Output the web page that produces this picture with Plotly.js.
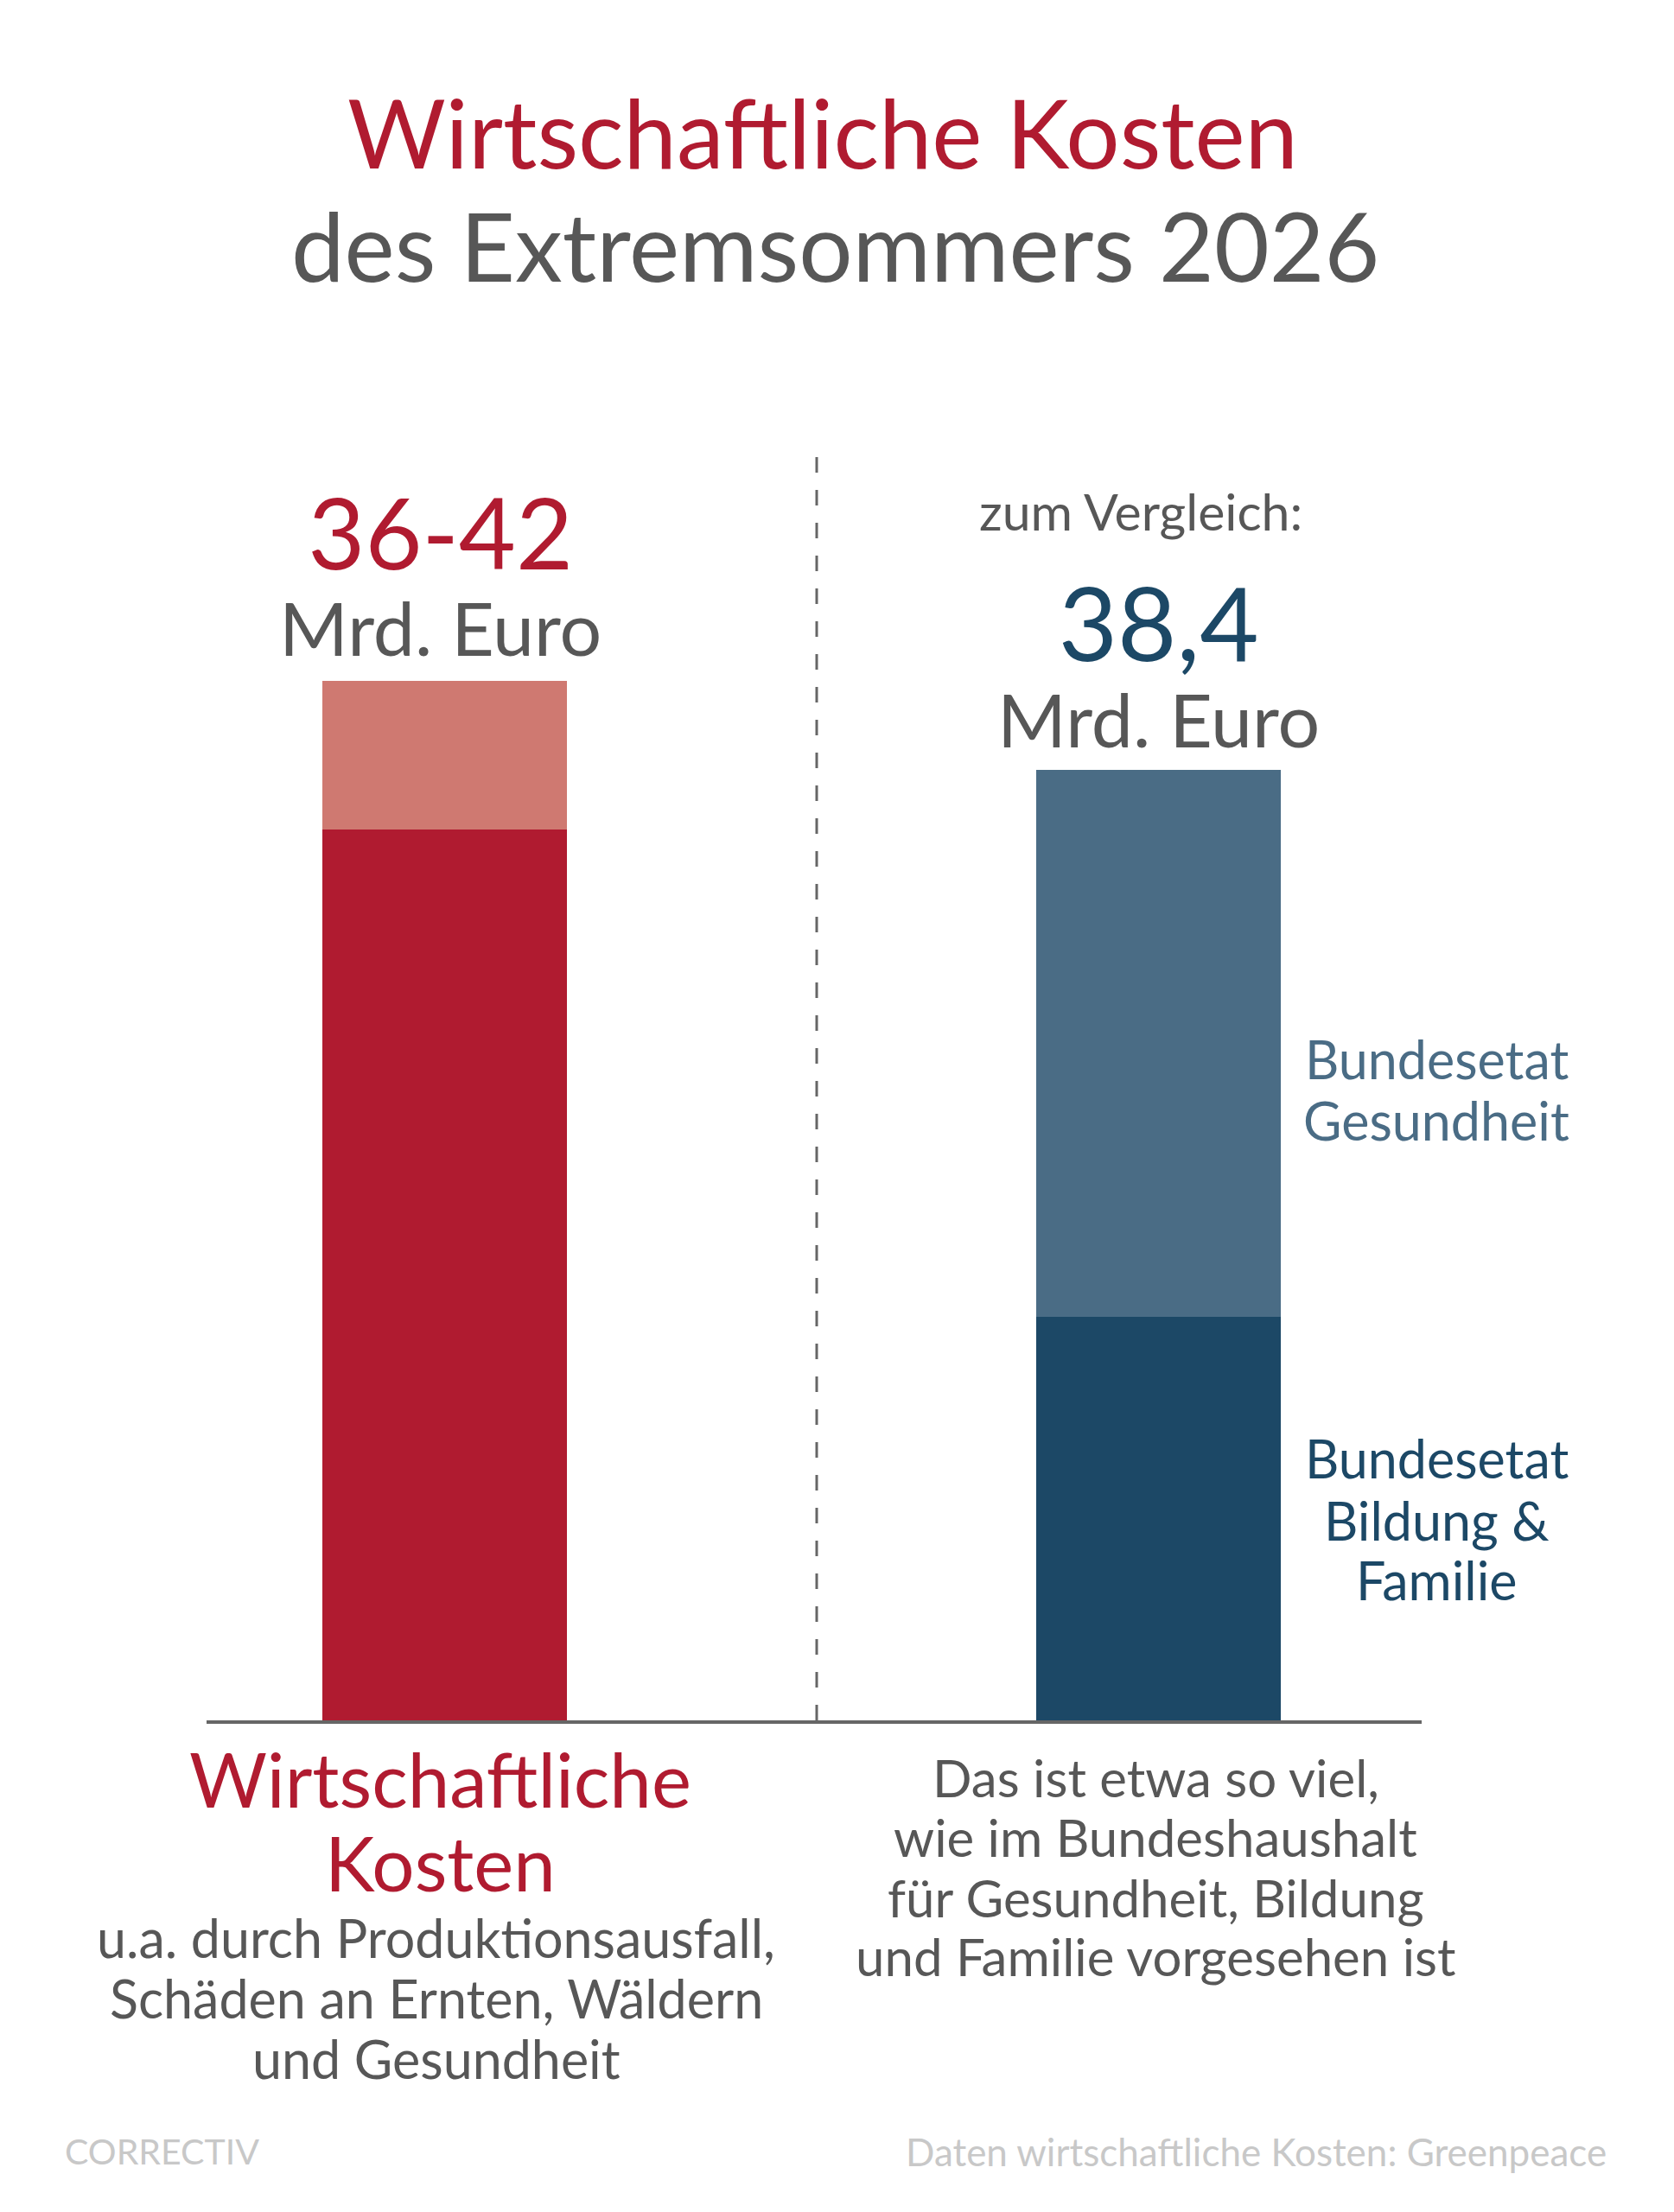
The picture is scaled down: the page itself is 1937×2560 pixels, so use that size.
<!DOCTYPE html>
<html>
<head>
<meta charset="utf-8">
<script src="https://cdn.plot.ly/plotly-3.0.1.min.js"></script>
<style>html,body{margin:0;padding:0;background:#fff;}#chart{width:1937px;height:2560px;}</style>
</head>
<body>
<div id="chart"></div>
<script>
// ---- data ----
const categories = ["Wirtschaftliche Kosten", "Bundeshaushalt"];
const kostenUntergrenze = [36, null];      // Mrd. Euro (sicher)
const kostenSpanne = [6, null];            // bis 42 Mrd. Euro
const etatBildungFamilie = [null, 16.3];   // Mrd. Euro
const etatGesundheit = [null, 22.1];       // Mrd. Euro (Summe 38,4)

const titleLines = ["Wirtschaftliche Kosten", "des Extremsommers 2026"];
const leftValueLabel = "36-42";
const rightValueLabel = "38,4";
const unitLabel = "Mrd. Euro";
const compareLabel = "zum Vergleich:";
const gesundheitLabel = ["Bundesetat", "Gesundheit"];
const bildungLabel = ["Bundesetat", "Bildung &", "Familie"];
const leftHeading = ["Wirtschaftliche", "Kosten"];
const leftText = ["u.a. durch Produktionsausfall,", "Schäden an Ernten, Wäldern", "und Gesundheit"];
const rightText = ["Das ist etwa so viel,", "wie im Bundeshaushalt", "für Gesundheit, Bildung", "und Familie vorgesehen ist"];
const credit = "CORRECTIV";
const source = "Daten wirtschaftliche Kosten: Greenpeace";

// ---- styling ----
const W = 1937, H = 2560;
const FONT = "Lato, 'Source Sans Pro', 'Noto Sans', sans-serif";
const RED = "#b01b30", RED_LIGHT = "#cf7971";
const BLUE = "#1c4866", BLUE_LIGHT = "#4a6c85";
const GRAY = "#575757", LIGHTGRAY = "#c8c8c8";

const xp = px => px / W;
const yp = px => 1 - px / H;

function ann(text, xpx, baseline, size, color, xanchor) {
  return {
    text: text, xref: "paper", yref: "paper",
    x: xp(xpx), y: yp(baseline - 0.39 * size),
    xanchor: xanchor || "center", yanchor: "middle",
    showarrow: false,
    font: {family: FONT, size: size, color: color}
  };
}

// value + unit in one text block (two lines, different sizes/colours)
function valueBlock(value, valueColor, xpx, centerPx, valueSize, unitSize, baseSize) {
  return {
    text: "<span style='font-size:" + valueSize + "px;fill:" + valueColor + "'>" + value + "</span><br>" +
          "<span style='font-size:" + unitSize + "px'>" + unitLabel + "</span>",
    xref: "paper", yref: "paper",
    x: xp(xpx), y: yp(centerPx),
    xanchor: "center", yanchor: "middle", align: "center",
    showarrow: false,
    font: {family: FONT, size: baseSize, color: GRAY}
  };
}

const annotations = [];
annotations.push(ann(titleLines[0], 952, 195, 110, RED));
annotations.push(ann(titleLines[1], 966, 326, 110, GRAY));
annotations.push(valueBlock(leftValueLabel, RED, 509, 661, 114, 86, 77));
annotations.push(ann(compareLabel, 1320, 615, 59, GRAY));
annotations.push(valueBlock(rightValueLabel, BLUE, 1340, 766, 118, 86, 77));
[1249, 1320].forEach((b, i) => annotations.push(ann(gesundheitLabel[i], 1662, b, 61, BLUE_LIGHT)));
[1711, 1783, 1852].forEach((b, i) => annotations.push(ann(bildungLabel[i], 1662, b, 61, BLUE)));
[2092, 2189].forEach((b, i) => annotations.push(ann(leftHeading[i], 510, b, 87, RED)));
[2266, 2336, 2406].forEach((b, i) => annotations.push(ann(leftText[i], 505, b, 61, GRAY)));
[2080, 2149, 2219, 2287].forEach((b, i) => annotations.push(ann(rightText[i], 1337, b, 60, GRAY)));
annotations.push(ann(credit, 73, 2505, 41, LIGHTGRAY, "left"));
annotations.push(ann(source, 1861, 2507, 44, LIGHTGRAY, "right"));

const barWidth = 0.3426;
const traces = [
  {y: kostenUntergrenze, color: RED, name: "Kosten (Untergrenze)"},
  {y: kostenSpanne, color: RED_LIGHT, name: "Kosten (Spanne)"},
  {y: etatBildungFamilie, color: BLUE, name: "Bundesetat Bildung & Familie"},
  {y: etatGesundheit, color: BLUE_LIGHT, name: "Bundesetat Gesundheit"}
].map(t => ({
  type: "bar", x: categories, y: t.y, name: t.name,
  width: barWidth, marker: {color: t.color, line: {width: 0}},
  hoverinfo: "skip"
}));

const layout = {
  width: W, height: H,
  margin: {l: 0, r: 0, t: 0, b: 0, pad: 0},
  paper_bgcolor: "#fff", plot_bgcolor: "#fff",
  barmode: "stack", showlegend: false,
  xaxis: {
    type: "category", domain: [xp(239), xp(1645)], range: [-0.3335, 1.3687],
    showline: true, linecolor: "#666", linewidth: 4,
    showticklabels: false, ticks: "", showgrid: false, zeroline: false, fixedrange: true
  },
  yaxis: {
    domain: [yp(1991), yp(500)], range: [0, 52.06],
    showline: false, showticklabels: false, ticks: "", showgrid: false, zeroline: false, fixedrange: true
  },
  shapes: [{
    type: "line", xref: "paper", yref: "paper",
    x0: xp(945), x1: xp(945), y0: yp(1991), y1: yp(514),
    line: {color: "#666", width: 3, dash: "18px,20px"}
  }],
  annotations: annotations
};

Plotly.newPlot("chart", traces, layout, {staticPlot: true, displayModeBar: false});
</script>
</body>
</html>
